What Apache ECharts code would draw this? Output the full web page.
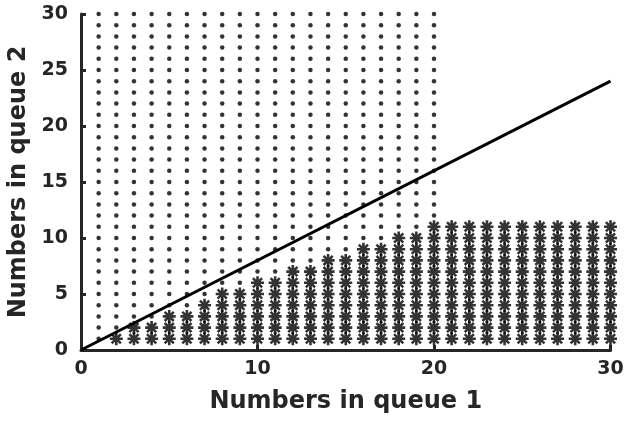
<!DOCTYPE html>
<html>
<head>
<meta charset="utf-8">
<script src="https://cdn.jsdelivr.net/npm/echarts@6/dist/echarts.min.js"></script>
<style>
html,body{margin:0;padding:0;background:#fff;}
#chart{width:627px;height:421px;}
</style>
</head>
<body>
<div id="chart"></div>
<script>
// ---- data ----
const xTicks = [0, 10, 20, 30];
const yTicks = [0, 5, 10, 15, 20, 25, 30];
const xName = 'Numbers in queue 1';
const yName = 'Numbers in queue 2';

// asterisk columns: x value and number of asterisks stacked (y = 1..height)
const asteriskX = [2,3,4,5,6,7,8,9,10,11,12,13,14,15,16,17,18,19,20,21,22,23,24,25,26,27,28,29,30];
const asteriskHeight = [1,2,2,3,3,4,5,5,6,6,7,7,8,8,9,9,10,10,11,11,11,11,11,11,11,11,11,11,11];

// dot lattice: columns 1..20, dots from above asterisks up to 30
const dotX = [1,2,3,4,5,6,7,8,9,10,11,12,13,14,15,16,17,18,19,20];
const dotTop = 30;

// straight line
const lineX = [0, 30];
const lineY = [0, 24];

// ---- build series data ----
const heightAt = {};
asteriskX.forEach((x, i) => { heightAt[x] = asteriskHeight[i]; });
const asteriskData = [];
asteriskX.forEach((x, i) => {
  for (let y = 1; y <= asteriskHeight[i]; y++) asteriskData.push([x, y]);
});
const dotData = [];
dotX.forEach(x => {
  const h = heightAt[x] || 0;
  for (let y = h + 1; y <= dotTop; y++) dotData.push([x, y]);
});
const lineData = lineX.map((x, i) => [x, lineY[i]]);

// asterisk path (plus + x, all subpaths same winding)
const asteriskPath = 'path://M8 0L12 0L12 20L8 20Z' +
  'M0 8L20 8L20 12L0 12Z' +
  'M4.34 1.51L18.49 15.66L15.66 18.49L1.51 4.34Z' +
  'M4.34 18.49L1.51 15.66L15.66 1.51L18.49 4.34Z';

const txt = '#262626';
const font = 'DejaVu Sans';

const chart = echarts.init(document.getElementById('chart'), null, {renderer: 'canvas'});
chart.setOption({
  animation: false,
  backgroundColor: '#ffffff',
  grid: {left: 81, right: 16.5, top: 14, bottom: 71, containLabel: false, outerBoundsMode: 'none'},
  xAxis: {
    type: 'value',
    min: xTicks[0], max: xTicks[xTicks.length - 1], interval: xTicks[1] - xTicks[0],
    name: xName, nameLocation: 'middle', nameGap: 40,
    nameTextStyle: {fontFamily: font, fontWeight: 'bold', fontSize: 24, color: txt},
    axisLine: {show: true, lineStyle: {color: txt, width: 3}},
    axisTick: {show: true, inside: true, length: 5, lineStyle: {color: txt, width: 3}},
    axisLabel: {fontFamily: font, fontWeight: 'bold', fontSize: 19, color: txt, margin: 10},
    splitLine: {show: false}
  },
  yAxis: {
    type: 'value',
    min: yTicks[0], max: yTicks[yTicks.length - 1], interval: yTicks[1] - yTicks[0],
    name: yName, nameLocation: 'middle', nameGap: 50,
    nameTextStyle: {fontFamily: font, fontWeight: 'bold', fontSize: 24, color: txt},
    axisLine: {show: true, lineStyle: {color: txt, width: 3}},
    axisTick: {show: true, inside: true, length: 5, lineStyle: {color: txt, width: 3}},
    axisLabel: {fontFamily: font, fontWeight: 'bold', fontSize: 19, color: txt, margin: 13},
    splitLine: {show: false}
  },
  series: [
    {
      type: 'scatter', data: dotData, symbol: 'circle', symbolSize: 4.5,
      itemStyle: {color: '#000'}, silent: true, z: 2
    },
    {
      type: 'scatter', data: asteriskData, symbol: asteriskPath, symbolSize: 13,
      itemStyle: {color: '#000'}, silent: true, z: 3
    },
    {
      type: 'line', data: lineData, showSymbol: false, symbol: 'none',
      lineStyle: {color: '#000', width: 3}, silent: true, z: 4
    }
  ]
});
</script>
</body>
</html>
